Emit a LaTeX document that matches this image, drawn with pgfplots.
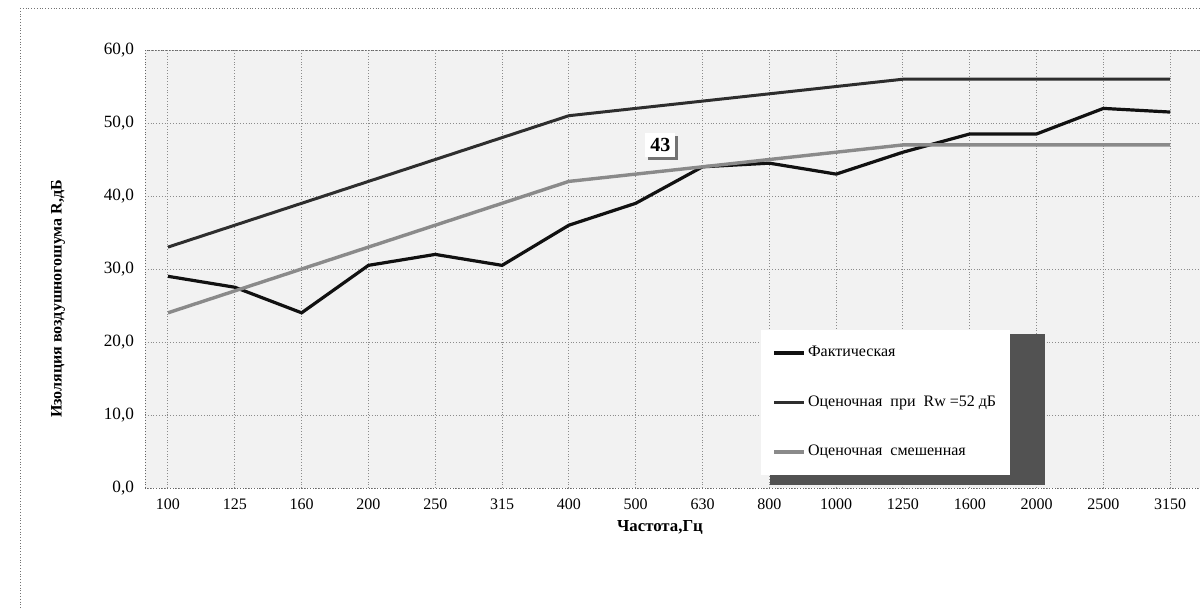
\documentclass[border=0pt]{standalone}
\usepackage{fontspec}
\setmainfont{Liberation Serif}
\usepackage{pgfplots}
\pgfplotsset{compat=1.18}
\usepackage{pgfplotstable}
\usetikzlibrary{shadows}

% 1 px of the reference = 0.5pt
\pgfplotstableread{
idx freq fact ref shift
0  100  29.0 33 24
1  125  27.5 36 27
2  160  24.0 39 30
3  200  30.5 42 33
4  250  32.0 45 36
5  315  30.5 48 39
6  400  36.0 51 42
7  500  39.0 52 43
8  630  44.0 53 44
9  800  44.5 54 45
10 1000 43.0 55 46
11 1250 46.0 56 47
12 1600 48.5 56 47
13 2000 48.5 56 47
14 2500 52.0 56 47
15 3150 51.5 56 47
}\rdata

\definecolor{factc}{HTML}{111111}
\definecolor{refc}{HTML}{2E2E2E}
\definecolor{shiftc}{HTML}{8A8A8A}

\begin{document}
\begin{tikzpicture}
\path[use as bounding box] (0,0) rectangle (600pt,-304.5pt);
\draw[densely dotted, black!55] (10pt,-4pt) -- (610pt,-4pt);
\draw[densely dotted, black!55] (10pt,-4pt) -- (10pt,-310pt);

\begin{axis}[
    scale only axis,
    width=535pt, height=219pt,
    at={(72.5pt,-244pt)}, anchor=south west,
    xmin=-0.344, xmax=15.67,
    ymin=0, ymax=60,
    xtick={0,...,15},
    xticklabels={100,125,160,200,250,315,400,500,630,800,1000,1250,1600,2000,2500,3150},
    ytick={0,10,...,60},
    yticklabels={{0,0},{10,0},{20,0},{30,0},{40,0},{50,0},{60,0}},
    tick style={draw=none},
    xticklabel style={font=\fontsize{8pt}{9.6pt}\selectfont, yshift=-2pt},
    yticklabel style={font=\fontsize{8.6pt}{10pt}\selectfont, xshift=-2pt},
    grid=major,
    major grid style={densely dotted, black!45, line width=0.5pt},
    axis line style={densely dotted, black!60},
    axis background/.style={fill=black!5},
    legend cell align=left,
    legend image code/.code={\draw[#1] (0pt,0pt) -- (15pt,0pt);},
    legend style={
        at={(rel axis cs:0.575,0.361)}, anchor=north west,
        fill=white, draw=none,
        font=\fontsize{8pt}{9.6pt}\selectfont,
        inner xsep=6pt, inner ysep=6pt,
        row sep=14pt,
        /tikz/every even column/.append style={column sep=0pt},
        nodes={inner xsep=1pt},
    },
]
% legend shadow
\fill[black!68] (rel axis cs:0.584,0.352) rectangle (rel axis cs:0.841,0.007);

\addplot[factc, line width=1.6pt] table[x=idx, y=fact] {\rdata};
\addplot[refc, line width=1.5pt] table[x=idx, y=ref] {\rdata};
\addplot[shiftc, line width=1.7pt] table[x=idx, y=shift] {\rdata};
\legend{Фактическая,Оценочная\ \ при\ \ Rw =52 дБ,Оценочная\ \ смешенная}

\node[fill=white, font=\fontsize{10pt}{12pt}\selectfont\bfseries, inner sep=2.5pt,
      drop shadow={shadow xshift=1.5pt, shadow yshift=-1.5pt, fill=black!55, opacity=1}]
      at (axis cs:7.37,47) {43};
\end{axis}

\node[font=\fontsize{8.4pt}{10pt}\selectfont\bfseries] at (330pt,-263.5pt) {Частота,Гц};
\node[font=\fontsize{8pt}{9.6pt}\selectfont\bfseries, rotate=90] at (29pt,-149.5pt) {Изоляция воздушногошума R,дБ};
\end{tikzpicture}
\end{document}
